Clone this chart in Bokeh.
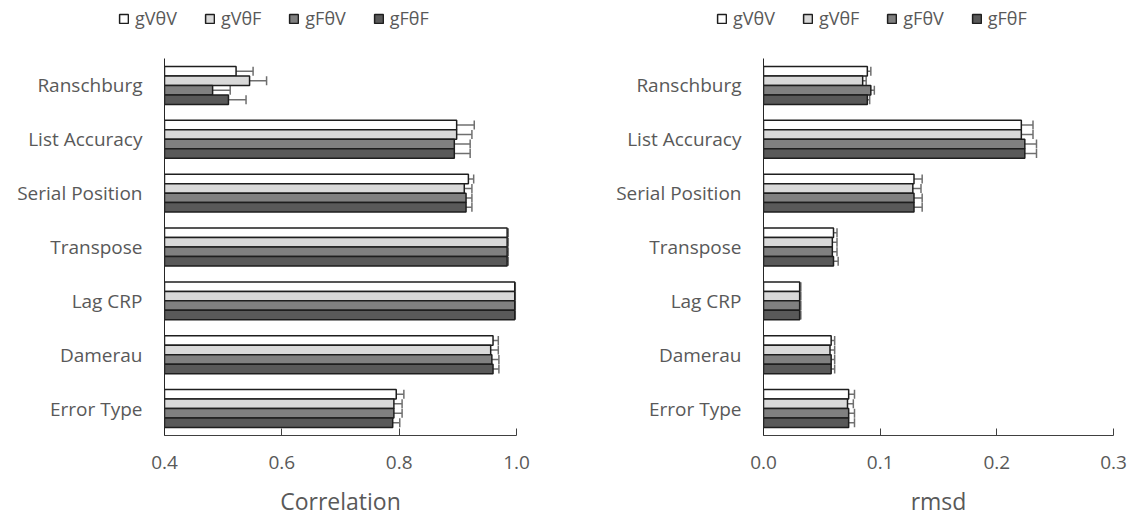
from bokeh.plotting import figure
from bokeh.layouts import row, column
from bokeh.models import (ColumnDataSource, FactorRange, Range1d, Whisker, TeeHead,
                          Legend, LegendItem, FixedTicker)
from bokeh.transform import dodge
from bokeh.embed import file_html
from bokeh.resources import INLINE

# ---- data -------------------------------------------------------------
measures = ["Ranschburg", "List Accuracy", "Serial Position", "Transpose",
            "Lag CRP", "Damerau", "Error Type"]
series = ["gVθV", "gVθF", "gFθV", "gFθF"]

corr_gVtV = [0.522, 0.898, 0.918, 0.984, 0.997, 0.960, 0.795]
corr_gVtF = [0.545, 0.898, 0.911, 0.984, 0.997, 0.956, 0.791]
corr_gFtV = [0.482, 0.894, 0.914, 0.984, 0.997, 0.958, 0.791]
corr_gFtF = [0.509, 0.894, 0.914, 0.984, 0.997, 0.960, 0.789]
corr_err_gVtV = [0.029, 0.030, 0.009, 0.002, 0.001, 0.009, 0.013]
corr_err_gVtF = [0.029, 0.026, 0.013, 0.002, 0.001, 0.013, 0.014]
corr_err_gFtV = [0.030, 0.027, 0.010, 0.002, 0.001, 0.012, 0.014]
corr_err_gFtF = [0.030, 0.027, 0.010, 0.002, 0.001, 0.010, 0.012]

rmsd_gVtV = [0.089, 0.221, 0.129, 0.060, 0.031, 0.058, 0.073]
rmsd_gVtF = [0.085, 0.221, 0.128, 0.059, 0.031, 0.057, 0.072]
rmsd_gFtV = [0.092, 0.224, 0.129, 0.059, 0.031, 0.058, 0.073]
rmsd_gFtF = [0.089, 0.224, 0.129, 0.060, 0.031, 0.058, 0.073]
rmsd_err_gVtV = [0.003, 0.010, 0.007, 0.003, 0.001, 0.003, 0.005]
rmsd_err_gVtF = [0.003, 0.010, 0.007, 0.004, 0.001, 0.004, 0.005]
rmsd_err_gFtV = [0.003, 0.010, 0.007, 0.004, 0.001, 0.003, 0.005]
rmsd_err_gFtF = [0.002, 0.010, 0.007, 0.004, 0.001, 0.003, 0.005]

corr_ticks = [0.4, 0.6, 0.8, 1.0]
rmsd_ticks = [0.0, 0.1, 0.2, 0.3]

# ---- style ------------------------------------------------------------
FONT = "Open Sans"
TEXT = "#595959"
FILLS = ["#ffffff", "#d9d9d9", "#808080", "#595959"]
BAR_LINE = "#1e1e1e"
BAR_H = 0.176
OFFSETS = [1.5 * BAR_H, 0.5 * BAR_H, -0.5 * BAR_H, -1.5 * BAR_H]
ERR_COLOR = "#6f6f6f"
LEGEND_H = 40
PLOT_H = 519 - LEGEND_H


def panel(values, errors, ticks, xlabel, width, border_left, border_right):
    p = figure(width=width, height=PLOT_H, output_backend="svg",
               toolbar_location=None, tools="",
               x_range=Range1d(ticks[0], ticks[-1]),
               y_range=FactorRange(factors=list(reversed(measures))),
               min_border_left=border_left, min_border_right=border_right,
               min_border_top=58 - LEGEND_H, min_border_bottom=83)
    p.outline_line_color = None
    p.background_fill_color = "white"
    p.border_fill_color = "white"
    p.xgrid.visible = False
    p.ygrid.visible = False

    for vals, errs, fill, off in zip(values, errors, FILLS, OFFSETS):
        src = ColumnDataSource(dict(
            measure=measures,
            value=vals,
            lower=[v - e for v, e in zip(vals, errs)],
            upper=[v + e for v, e in zip(vals, errs)],
        ))
        p.hbar(y=dodge("measure", off, range=p.y_range), left=ticks[0],
               right="value", height=BAR_H, source=src,
               fill_color=fill, line_color=BAR_LINE, line_width=1.5)
        w = Whisker(base=dodge("measure", off, range=p.y_range),
                    lower="lower", upper="upper", dimension="width",
                    source=src, line_color=ERR_COLOR, line_width=1.5,
                    upper_head=TeeHead(size=9, line_color=ERR_COLOR, line_width=1.5),
                    lower_head=TeeHead(size=9, line_color=ERR_COLOR, line_width=1.5))
        p.add_layout(w)

    xa = p.xaxis[0]
    xa.ticker = FixedTicker(ticks=ticks)
    xa.major_label_overrides = {t: f"{t:.1f}" for t in ticks}
    xa.axis_line_color = "#404040"
    xa.major_tick_line_color = "#404040"
    xa.major_tick_in = 7
    xa.major_tick_out = 0
    xa.minor_tick_line_color = None
    xa.major_label_standoff = 20
    xa.major_label_text_font = FONT
    xa.major_label_text_font_size = "19px"
    xa.major_label_text_color = TEXT
    xa.axis_label = xlabel
    xa.axis_label_text_font = FONT
    xa.axis_label_text_font_size = "23px"
    xa.axis_label_text_font_style = "normal"
    xa.axis_label_text_color = TEXT
    xa.axis_label_standoff = 13

    ya = p.yaxis[0]
    ya.axis_line_color = "#262626"
    ya.major_tick_line_color = None
    ya.major_tick_in = 0
    ya.major_tick_out = 0
    ya.minor_tick_line_color = None
    ya.major_label_standoff = 22
    ya.major_label_text_font = FONT
    ya.major_label_text_font_size = "19px"
    ya.major_label_text_color = TEXT
    return p


# ---- legend strip (one key above each panel) ---------------------------
key = figure(width=1133, height=LEGEND_H, output_backend="svg",
             toolbar_location=None, tools="",
             x_range=Range1d(0, 1), y_range=Range1d(0, 1),
             x_axis_type=None, y_axis_type=None,
             min_border=0)
key.outline_line_color = None
key.background_fill_color = "white"
key.border_fill_color = "white"

# hidden swatch renderers: only their legend glyphs are drawn
swatches = []
for name, fill in zip(series, FILLS):
    r = key.hbar(y=[0.5], left=[0], right=[1], height=0.5,
                 fill_color=fill, line_color=BAR_LINE, line_width=1.5)
    r.visible = False
    swatches.append(LegendItem(label=name, renderers=[r]))

for x_pos in (118, 716):
    key.add_layout(Legend(items=swatches, orientation="horizontal",
                          location=(x_pos, 10), click_policy="none",
                          glyph_width=11, glyph_height=11, label_standoff=6,
                          spacing=27, padding=0, margin=0,
                          label_text_font=FONT, label_text_font_size="18px",
                          label_text_color=TEXT, label_height=20,
                          border_line_color=None, background_fill_alpha=0))

left = panel([corr_gVtV, corr_gVtF, corr_gFtV, corr_gFtF],
             [corr_err_gVtV, corr_err_gVtF, corr_err_gFtV, corr_err_gFtF],
             corr_ticks, "Correlation", 566, 164, 50)
right = panel([rmsd_gVtV, rmsd_gVtF, rmsd_gFtV, rmsd_gFtF],
              [rmsd_err_gVtV, rmsd_err_gVtF, rmsd_err_gFtV, rmsd_err_gFtF],
              rmsd_ticks, "rmsd", 567, 197, 20)

layout = column(key, row(left, right))
open("out.html", "w").write(file_html(layout, INLINE))
